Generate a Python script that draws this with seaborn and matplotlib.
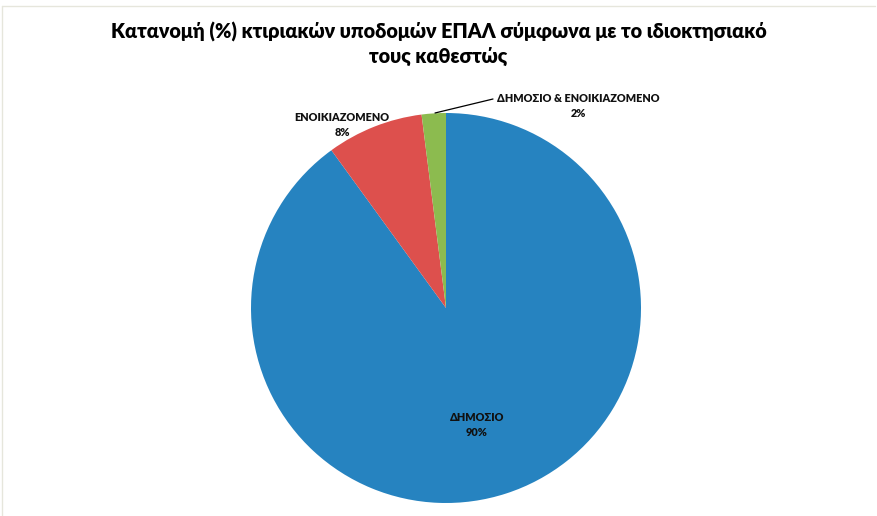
import matplotlib
matplotlib.use("Agg")
import matplotlib.pyplot as plt
import seaborn as sns
from matplotlib.lines import Line2D

categories = ["ΔΗΜΟΣΙΟ", "ΕΝΟΙΚΙΑΖΟΜΕΝΟ", "ΔΗΜΟΣΙΟ & ΕΝΟΙΚΙΑΖΟΜΕΝΟ"]
values = [90, 8, 2]
colors = ["#2683C0", "#DD504D", "#8CBB4F"]
title = "Κατανομή (%) κτιριακών υποδομών ΕΠΑΛ σύμφωνα με το ιδιοκτησιακό\nτους καθεστώς"

sns.set_theme(style="white")
plt.rcParams["font.family"] = ["Lato", "DejaVu Sans"]

W, H = 877, 516
fig = plt.figure(figsize=(W / 100, H / 100), dpi=100)
ax = fig.add_axes([0, 0, 1, 1])

cx, cy, r = 446, H - 308, 195
ax.pie(values, colors=colors, startangle=90, counterclock=False,
       center=(cx, cy), radius=r, frame=True,
       wedgeprops=dict(linewidth=0))
ax.set_xlim(0, W)
ax.set_ylim(0, H)
ax.set_aspect("equal")
ax.axis("off")

# faint outer border
fig.add_artist(Line2D([0.002, 0.998], [1 - 6 / H, 1 - 6 / H], transform=fig.transFigure,
                      color="#E6E6DC", lw=1))
fig.add_artist(Line2D([2 / W, 2 / W], [0, 1 - 6 / H], transform=fig.transFigure,
                      color="#E6E6DC", lw=1))

fig.text(0.5, 1 - 44 / H, title, ha="center", va="center", fontsize=14.2,
         fontweight="heavy", color="#000000", linespacing=1.35)

label_pos = [(477, 425), (342, 125), (578, 106)]
for cat, v, (lx, ly) in zip(categories, values, label_pos):
    ax.text(lx, H - ly, f"{cat}\n{v}%", ha="center", va="center",
            fontsize=7.8, fontweight="heavy", color="#111111", linespacing=1.45)

ax.plot([435, 493], [H - 113, H - 99], color="#000000", lw=0.9)

fig.savefig("out.png", dpi=100)
